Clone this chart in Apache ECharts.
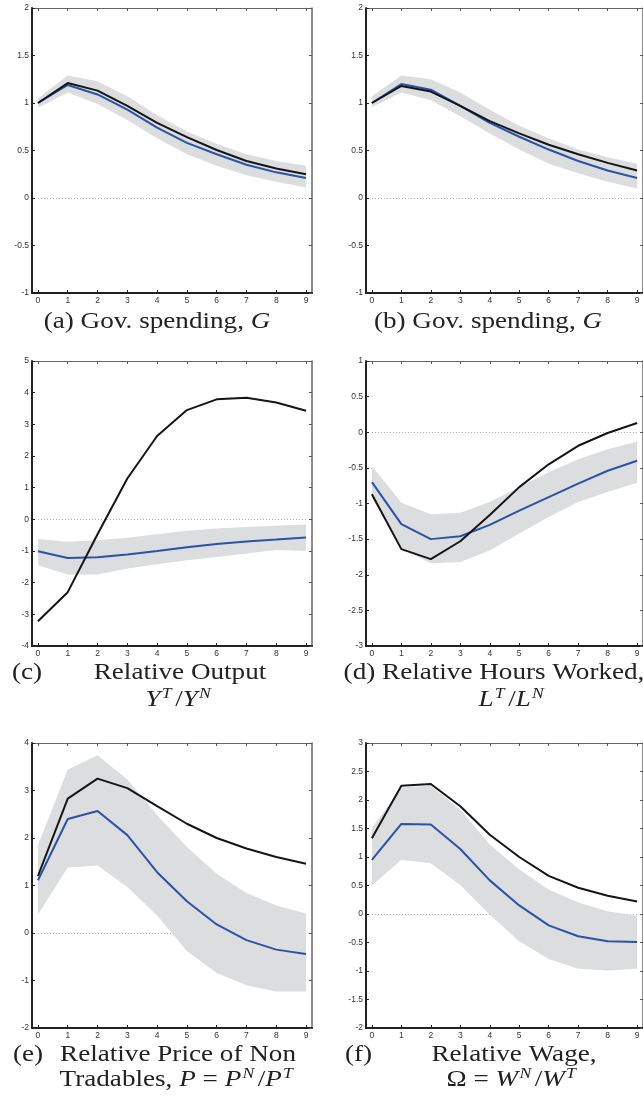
<!DOCTYPE html>
<html>
<head>
<meta charset="utf-8">
<script src="https://cdn.jsdelivr.net/npm/echarts@6/dist/echarts.min.js"></script>
<style>
  html, body { margin: 0; padding: 0; background: #fff; }
  #chart { width: 643px; height: 1102px; }
</style>
</head>
<body>
<div id="chart"></div>
<script>
// Horizon (periods after the shock) and its tick labels
const steps = [0, 1, 2, 3, 4, 5, 6, 7, 8, 9];

// (a) Gov. spending
const govA_model = [1.00, 1.21, 1.13, 0.97, 0.79, 0.64, 0.505, 0.39, 0.31, 0.25];
const govA_var   = [1.00, 1.19, 1.09, 0.93, 0.74, 0.58, 0.46, 0.35, 0.27, 0.21];
const govA_hi    = [1.05, 1.29, 1.23, 1.07, 0.87, 0.70, 0.57, 0.46, 0.39, 0.34];
const govA_lo    = [0.95, 1.11, 0.99, 0.82, 0.63, 0.46, 0.34, 0.24, 0.17, 0.11];

// (b) Gov. spending
const govB_model = [1.00, 1.18, 1.12, 0.97, 0.81, 0.68, 0.56, 0.46, 0.37, 0.29];
const govB_var   = [1.00, 1.20, 1.14, 0.97, 0.79, 0.645, 0.51, 0.39, 0.29, 0.21];
const govB_hi    = [1.07, 1.29, 1.25, 1.11, 0.93, 0.76, 0.63, 0.51, 0.43, 0.36];
const govB_lo    = [0.955, 1.11, 1.03, 0.86, 0.68, 0.51, 0.36, 0.26, 0.17, 0.10];

// (c) Relative output
const out_model = [-3.22, -2.30, -0.47, 1.29, 2.63, 3.45, 3.79, 3.84, 3.69, 3.43];
const out_var   = [-1.01, -1.22, -1.20, -1.11, -1.00, -0.88, -0.78, -0.70, -0.64, -0.57];
const out_hi    = [-0.62, -0.71, -0.66, -0.58, -0.47, -0.36, -0.29, -0.24, -0.20, -0.16];
const out_lo    = [-1.45, -1.74, -1.74, -1.55, -1.42, -1.29, -1.19, -1.08, -0.97, -1.00];

// (d) Relative hours worked
const hrs_model = [-0.87, -1.64, -1.78, -1.53, -1.16, -0.77, -0.45, -0.19, -0.01, 0.13];
const hrs_var   = [-0.70, -1.29, -1.50, -1.46, -1.30, -1.10, -0.91, -0.72, -0.54, -0.40];
const hrs_hi    = [-0.475, -0.99, -1.15, -1.13, -0.98, -0.77, -0.56, -0.38, -0.24, -0.13];
const hrs_lo    = [-0.92, -1.64, -1.84, -1.82, -1.66, -1.42, -1.19, -0.98, -0.84, -0.71];

// (e) Relative price of non tradables
const prc_model = [1.20, 2.83, 3.25, 3.05, 2.67, 2.30, 2.00, 1.78, 1.60, 1.46];
const prc_var   = [1.11, 2.40, 2.57, 2.06, 1.28, 0.67, 0.18, -0.15, -0.35, -0.44];
const prc_hi    = [1.85, 3.44, 3.74, 3.23, 2.48, 1.81, 1.25, 0.84, 0.58, 0.41];
const prc_lo    = [0.39, 1.38, 1.42, 0.97, 0.37, -0.38, -0.84, -1.10, -1.23, -1.23];

// (f) Relative wage
const wage_model = [1.33, 2.25, 2.28, 1.89, 1.39, 1.00, 0.67, 0.46, 0.32, 0.22];
const wage_var   = [0.95, 1.58, 1.57, 1.14, 0.59, 0.15, -0.20, -0.39, -0.48, -0.49];
const wage_hi    = [1.51, 2.22, 2.25, 1.83, 1.22, 0.78, 0.43, 0.20, 0.05, -0.03];
const wage_lo    = [0.50, 0.95, 0.89, 0.51, -0.01, -0.48, -0.79, -0.96, -0.99, -0.96];

// Vertical axis ranges per panel: [min, max, interval]
const yRangeA = [-1, 2, 0.5];
const yRangeB = [-1, 2, 0.5];
const yRangeC = [-4, 5, 1];
const yRangeD = [-3, 1, 0.5];
const yRangeE = [-2, 4, 1];
const yRangeF = [-2, 3, 0.5];

const panels = [
  { model: govA_model, vr: govA_var, hi: govA_hi, lo: govA_lo, y: yRangeA, left: 32,  top: 8 },
  { model: govB_model, vr: govB_var, hi: govB_hi, lo: govB_lo, y: yRangeB, left: 366, top: 8 },
  { model: out_model,  vr: out_var,  hi: out_hi,  lo: out_lo,  y: yRangeC, left: 32,  top: 361 },
  { model: hrs_model,  vr: hrs_var,  hi: hrs_hi,  lo: hrs_lo,  y: yRangeD, left: 366, top: 361 },
  { model: prc_model,  vr: prc_var,  hi: prc_hi,  lo: prc_lo,  y: yRangeE, left: 32,  top: 743 },
  { model: wage_model, vr: wage_var, hi: wage_hi, lo: wage_lo, y: yRangeF, left: 366, top: 743 }
];

const PLOT_W = 280, PLOT_H = 285;
const X_MIN = -0.2, X_MAX = 9.2;
const tickFont = { fontFamily: "'Liberation Sans Narrow', 'Liberation Sans', Arial, sans-serif", fontSize: 8.5, color: '#333' };
const BAND = '#dcdddf', BLUE = '#2b52a6', BLACK = '#151515';

const grid = [], xAxis = [], yAxis = [], series = [];

panels.forEach((p, i) => {
  grid.push({ left: p.left, top: p.top, width: PLOT_W, height: PLOT_H, containLabel: false });

  // bottom (labelled) and top (frame) horizontal axes
  xAxis.push({
    type: 'value', gridIndex: i, min: X_MIN, max: X_MAX, position: 'bottom',
    axisLine: { show: true, onZero: false, lineStyle: { color: '#222', width: 2 } },
    axisTick: { show: true, inside: true, length: 3, customValues: steps, lineStyle: { color: '#222', width: 1 } },
    axisLabel: Object.assign({ show: true, margin: 3, customValues: steps }, tickFont),
    splitLine: { show: false }
  });
  xAxis.push({
    type: 'value', gridIndex: i, min: X_MIN, max: X_MAX, position: 'top',
    axisLine: { show: true, onZero: false, lineStyle: { color: '#666', width: 1 } },
    axisTick: { show: true, inside: true, length: 3, customValues: steps, lineStyle: { color: '#555', width: 1 } },
    axisLabel: { show: false },
    splitLine: { show: false }
  });

  // left (labelled) and right (frame) vertical axes
  yAxis.push({
    type: 'value', gridIndex: i, min: p.y[0], max: p.y[1], interval: p.y[2], position: 'left',
    axisLine: { show: true, onZero: false, lineStyle: { color: '#222', width: 2 } },
    axisTick: { show: true, inside: true, length: 3, lineStyle: { color: '#222', width: 1 } },
    axisLabel: Object.assign({ show: true, margin: 3 }, tickFont),
    splitLine: { show: false }
  });
  yAxis.push({
    type: 'value', gridIndex: i, min: p.y[0], max: p.y[1], interval: p.y[2], position: 'right',
    axisLine: { show: true, onZero: false, lineStyle: { color: '#666', width: 1.5 } },
    axisTick: { show: true, inside: true, length: 3, lineStyle: { color: '#555', width: 1 } },
    axisLabel: { show: false },
    splitLine: { show: false }
  });

  const xi = 2 * i, yi = 2 * i;

  // confidence band: one polygon through the upper edge and back along the lower edge
  series.push({
    type: 'custom', xAxisIndex: xi, yAxisIndex: yi, silent: true, z: 2,
    data: steps.map((s, k) => [s, p.lo[k], p.hi[k]]),
    encode: { x: 0, y: [1, 2] },
    renderItem: function (params, api) {
      if (params.dataIndex !== 0) return null;
      const pts = [];
      for (let k = 0; k < steps.length; k++) pts.push(api.coord([steps[k], p.hi[k]]));
      for (let k = steps.length - 1; k >= 0; k--) pts.push(api.coord([steps[k], p.lo[k]]));
      return { type: 'polygon', shape: { points: pts }, style: { fill: BAND, stroke: null } };
    },
    markLine: {
      silent: true, symbol: 'none', label: { show: false }, z: 1,
      lineStyle: { type: [1, 2], color: '#a8a8a8', width: 1 },
      data: [[{ coord: [steps[0], 0] }, { coord: [steps[steps.length - 1], 0] }]]
    }
  });
  // estimated response
  series.push({
    type: 'line', xAxisIndex: xi, yAxisIndex: yi,
    data: steps.map((s, k) => [s, p.vr[k]]),
    symbol: 'none', lineStyle: { color: BLUE, width: 2 }, silent: true, z: 3
  });
  // model response
  series.push({
    type: 'line', xAxisIndex: xi, yAxisIndex: yi,
    data: steps.map((s, k) => [s, p.model[k]]),
    symbol: 'none', lineStyle: { color: BLACK, width: 2 }, silent: true, z: 4
  });
});

// Sub-figure captions (serif, widened to Computer Modern proportions)
const SERIF = "'Liberation Serif', 'DejaVu Serif', serif";
const CAP = 23, SUP = 15, WIDEN = 1.18;
const rich = {
  r: { fontFamily: SERIF, fontSize: CAP, lineHeight: 26, color: '#222' },
  i: { fontFamily: SERIF, fontSize: CAP, fontStyle: 'italic', lineHeight: 26, color: '#222' },
  s: { fontFamily: SERIF, fontSize: SUP, fontStyle: 'italic', lineHeight: 15, verticalAlign: 'top', color: '#222', padding: [0, 3, 0, 1] }
};
function caption(text, x, y, align) {
  return {
    type: 'text', x: x, y: y, scaleX: WIDEN, silent: true,
    style: { text: text, rich: rich, align: align || 'center', verticalAlign: 'middle',
             fontFamily: SERIF, fontSize: CAP, fill: '#222' }
  };
}
const graphic = [
  caption('{r|(a) Gov. spending, }{i|G}', 157, 322),
  caption('{r|(b) Gov. spending, }{i|G}', 488, 322),
  caption('{r|(c)}', 12, 673, 'left'),
  caption('{r|Relative Output}', 180, 673),
  caption('{i|Y}{s|T}{r|/}{i|Y}{s|N}', 180, 700),
  caption('{r|(d) Relative Hours Worked,}', 494, 673),
  caption('{i|L}{s|T}{r|/}{i|L}{s|N}', 513, 700),
  caption('{r|(e)}', 13, 1055, 'left'),
  caption('{r|Relative Price of Non}', 178, 1055),
  caption('{r|Tradables, }{i|P}{r| = }{i|P}{s|N}{r|/}{i|P}{s|T}', 178, 1080),
  caption('{r|(f)}', 345, 1055, 'left'),
  caption('{r|Relative Wage,}', 514, 1055),
  caption('{r|Ω = }{i|W}{s|N}{r|/}{i|W}{s|T}', 513, 1080)
];

const chart = echarts.init(document.getElementById('chart'), null, { renderer: 'canvas' });
chart.setOption({
  animation: false,
  backgroundColor: '#fff',
  grid: grid,
  xAxis: xAxis,
  yAxis: yAxis,
  series: series,
  graphic: graphic
});
</script>
</body>
</html>
